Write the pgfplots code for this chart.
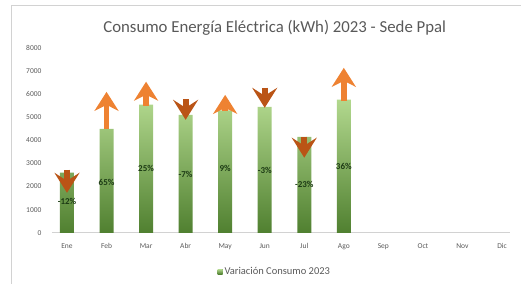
\documentclass[border=0pt]{standalone}
\usepackage{fontspec}
\setmainfont{Carlito}
\usepackage{pgfplots}
\pgfplotsset{compat=1.18}
\usetikzlibrary{arrows.meta}
\definecolor{barTop}{RGB}{178,216,142}
\definecolor{barBot}{RGB}{80,128,48}
\definecolor{arrUp}{RGB}{238,130,50}
\definecolor{arrDn}{RGB}{186,84,22}
\definecolor{txtgray}{RGB}{89,89,89}
\definecolor{lblgreen}{RGB}{28,58,20}
\begin{document}
\begin{tikzpicture}
\path (0pt,0pt) rectangle (521pt,284pt);
\draw[gray!35, line width=1pt] (12pt,0pt) -- (12pt,278.5pt) -- (521pt,278.5pt);
\node[text=txtgray, font=\fontsize{16.8}{19}\selectfont] at (275pt,256pt) {Consumo Energía Eléctrica (kWh) 2023 - Sede Ppal};
\begin{axis}[
  at={(52pt,51pt)}, anchor=south west,
  scale only axis, width=458pt, height=185pt,
  xmin=-0.38, xmax=11.19, ymin=0, ymax=8000,
  xtick={0,...,11},
  xticklabels={Ene,Feb,Mar,Abr,May,Jun,Jul,Ago,Sep,Oct,Nov,Dic},
  ytick={0,1000,...,8000},
  scaled y ticks=false,
  /pgf/number format/assume math mode=true,
  yticklabel={\pgfmathprintnumber[1000 sep={}]{\tick}},
  axis x line*=bottom, axis y line*=left,
  y axis line style={draw=none},
  x axis line style={draw=gray!35, line width=0.8pt},
  major tick length=0pt,
  tick style={draw=none},
  ticklabel style={font=\fontsize{7.5}{9}\selectfont, text=txtgray},
  yticklabel style={xshift=-7pt},
  xticklabel style={yshift=-7pt},
  legend style={at={(0.487,-0.21)}, anchor=center, draw=none, fill=none,
    font=\fontsize{10.5}{12}\selectfont, text=txtgray},
  legend image code/.code={\fill[barBot!80] (0pt,-2.5pt) rectangle (5pt,2.5pt);},
  clip=false,
]
\addplot[ybar, bar width=14pt, draw=none, top color=barTop, bottom color=barBot]
  coordinates {(0,2600) (1,4500) (2,5550) (3,5100) (4,5300) (5,5450) (6,4150) (7,5760)};
\addlegendentry{Variación Consumo 2023}
% up arrows
\addplot[forget plot, quiver={u=0,v=\thisrow{v}}, line width=5.5pt, draw=arrUp,
  -{Stealth[width=24pt,length=19pt,inset=6pt]}] table[x=x,y=y]{
x y v
1 4500 1600
2 5500 1040
4 5250 720
7 5700 1440
};
% down arrows
\addplot[forget plot, quiver={u=0,v=\thisrow{v}}, line width=6pt, draw=arrDn,
  -{Stealth[width=25pt,length=20pt,inset=8pt]}] table[x=x,y=y]{
x y v
0 2730 -1000
3 5790 -900
5 6280 -870
6 4160 -910
};
% percentage labels
\addplot[forget plot, draw=none, mark=none, nodes near coords, point meta=explicit symbolic,
  nodes near coords style={anchor=center, font=\bfseries\fontsize{9}{10}\selectfont, text=lblgreen}]
  coordinates {(0,1340)[-12\%] (1,2200)[65\%] (2,2770)[25\%] (3,2510)[-7\%]
               (4,2770)[9\%] (5,2680)[-3\%] (6,2080)[-23\%] (7,2860)[36\%]};
\end{axis}
\end{tikzpicture}
\end{document}
